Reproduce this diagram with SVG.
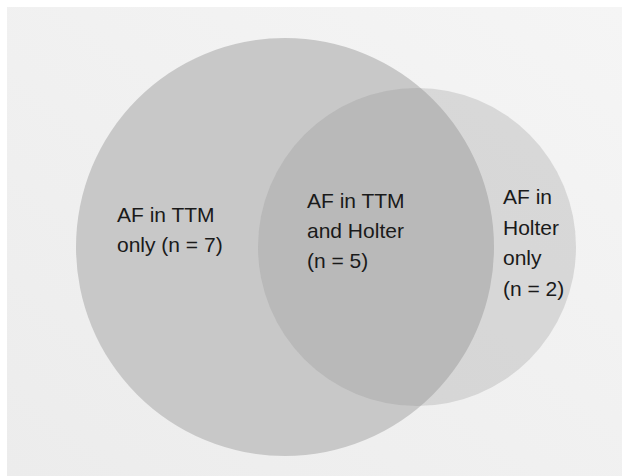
<svg xmlns="http://www.w3.org/2000/svg" width="622" height="476" viewBox="0 0 622 476">
  <defs>
    <linearGradient id="bg" x1="1" y1="0" x2="0" y2="1">
      <stop offset="0" stop-color="#f5f5f5"/>
      <stop offset="1" stop-color="#ececec"/>
    </linearGradient>
  </defs>
  <style>
    .lbl { font-family: "Liberation Sans", Arial, sans-serif; font-size: 21px; fill: #1a1a1a; }
    .setA { fill: #c8c8c8; }
    .setB { fill: #8f8f8f; fill-opacity: 0.27; }
  </style>
  <rect x="0" y="0" width="622" height="476" fill="#ffffff"/>
  <rect x="7" y="7" width="615" height="469" fill="url(#bg)"/>
  <g id="ttm">
    <circle class="setA" cx="285" cy="247" r="209"/>
  </g>
  <g id="holter">
    <circle class="setB" cx="417" cy="247" r="159"/>
  </g>
  <g id="connectors"></g>
  <g id="label-ttm-only">
    <text class="lbl" x="117" y="222">AF in TTM</text>
    <text class="lbl" x="117" y="252">only (n = 7)</text>
  </g>
  <g id="label-both">
    <text class="lbl" x="307" y="208">AF in TTM</text>
    <text class="lbl" x="307" y="238">and Holter</text>
    <text class="lbl" x="307" y="268">(n = 5)</text>
  </g>
  <g id="label-holter-only">
    <text class="lbl" x="503" y="204">AF in</text>
    <text class="lbl" x="503" y="235">Holter</text>
    <text class="lbl" x="503" y="265">only</text>
    <text class="lbl" x="503" y="296">(n = 2)</text>
  </g>
</svg>
